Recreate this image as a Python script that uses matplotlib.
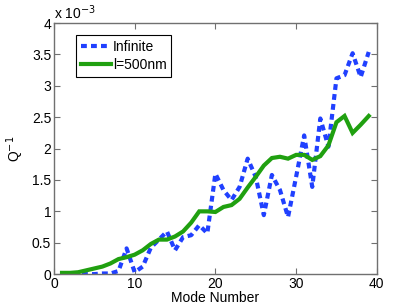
import numpy as np
import matplotlib
matplotlib.use("Agg")
import matplotlib.pyplot as plt
from matplotlib.ticker import FormatStrFormatter

plt.rcParams['font.family'] = ['Liberation Sans', 'DejaVu Sans']
plt.rcParams['font.size'] = 10

# Q^-1 values in units of 1e-3, modes 1..39
modes = np.arange(1, 40)
infinite = [0.01, 0.01, 0.0, 0.0, 0.0, 0.01, 0.01, 0.05, 0.41, 0.03,
            0.12, 0.42, 0.55, 0.68, 0.38, 0.59, 0.62, 0.78, 0.65, 1.60,
            1.34, 1.18, 1.39, 1.84, 1.55, 0.94, 1.58, 1.34, 0.91, 1.55,
            2.21, 1.39, 2.48, 2.03, 3.12, 3.17, 3.52, 3.14, 3.54]
l500 = [0.02, 0.02, 0.03, 0.06, 0.09, 0.12, 0.17, 0.24, 0.27, 0.31,
        0.38, 0.48, 0.55, 0.55, 0.60, 0.68, 0.82, 1.00, 1.00, 0.99,
        1.07, 1.10, 1.20, 1.38, 1.55, 1.73, 1.85, 1.87, 1.84, 1.90,
        1.90, 1.82, 1.88, 2.05, 2.42, 2.52, 2.25, 2.38, 2.52]
labels = ["Infinite", "l=500nm"]
xticks = [0, 10, 20, 30, 40]
yticks = [0, 0.5, 1, 1.5, 2, 2.5, 3, 3.5, 4]

fig = plt.figure(figsize=(4.15, 3.08), dpi=100)
ax = fig.add_axes([0.130, 0.110, 0.778, 0.815])

ax.plot(modes, infinite, color='#2040ff', lw=3, linestyle=(0, (1.4, 1.0)),
        dash_capstyle='butt', label=labels[0])
ax.plot(modes, l500, color='#20a010', lw=3, solid_joinstyle='miter', label=labels[1])

ax.set_xlim(0, 40)
ax.set_ylim(0, 4)
ax.set_xticks(xticks)
ax.set_yticks(yticks)
ax.yaxis.set_major_formatter(FormatStrFormatter('%g'))
ax.tick_params(direction='in', top=True, right=True, length=4, width=0.8,
               color='#707070', pad=2, labelsize=10)
for s in ax.spines.values():
    s.set_color('#707070')
    s.set_linewidth(1.0)

ax.set_xlabel("Mode Number", labelpad=0)
ax.set_ylabel(r"Q$^{-1}$", labelpad=4)
ax.text(0.0, 1.005, r"x 10$^{-3}$", transform=ax.transAxes, ha='left', va='bottom', fontsize=10)

leg = ax.legend(loc='upper left', bbox_to_anchor=(0.068, 0.952), borderaxespad=0,
                fancybox=False, framealpha=1, edgecolor='black', handlelength=2.2,
                handletextpad=0.1, borderpad=0.35, labelspacing=0.3, fontsize=10)
leg.get_frame().set_linewidth(0.8)

fig.savefig("out.png", dpi=100)
